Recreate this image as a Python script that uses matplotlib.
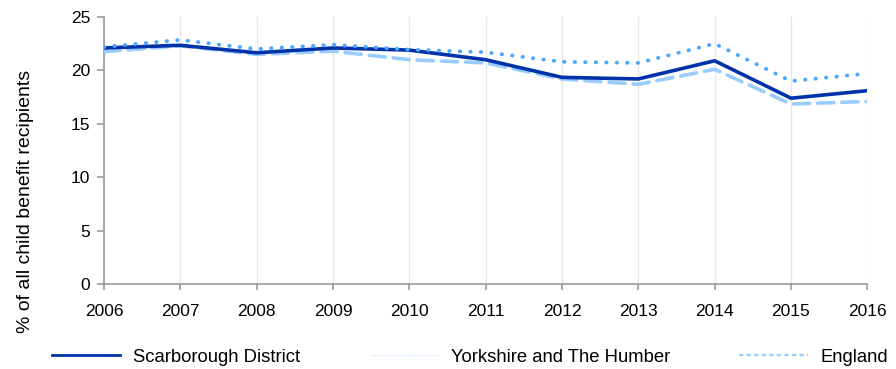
import matplotlib
matplotlib.use('Agg')
import matplotlib.pyplot as plt
from matplotlib.lines import Line2D

plt.rcParams['font.family'] = ['Liberation Sans', 'DejaVu Sans']

years = [2006, 2007, 2008, 2009, 2010, 2011, 2012, 2013, 2014, 2015, 2016]
scarborough = [22.1, 22.35, 21.65, 22.1, 21.9, 21.0, 19.35, 19.2, 20.9, 17.4, 18.1]
yorkshire = [22.2, 22.85, 22.0, 22.4, 21.95, 21.7, 20.8, 20.7, 22.5, 19.0, 19.7]
england = [21.75, 22.3, 21.5, 21.8, 21.0, 20.7, 19.2, 18.7, 20.1, 16.85, 17.1]

dark = '#0033aa'
mid = '#4da6ff'
light = '#99ccff'

fig = plt.figure(figsize=(8.96, 3.69), dpi=100)
ax = fig.add_axes([0.116, 0.230, 0.852, 0.724])

ax.plot(years, england, color=light, lw=2.6, dashes=(4.5, 2.2), solid_capstyle='round',
        dash_capstyle='round', zorder=3)
ax.plot(years, scarborough, color=dark, lw=2.6, zorder=4)
ax.plot(years, yorkshire, color=mid, lw=2.8, dashes=(0.1, 2.6), dash_capstyle='round', zorder=5)

ax.set_xlim(2006, 2016)
ax.set_ylim(0, 25)
ax.set_xticks(years)
ax.set_yticks([0, 5, 10, 15, 20, 25])
ax.xaxis.grid(True, color='#e8e8e8', lw=1)
ax.set_axisbelow(True)

for side in ['top', 'right']:
    ax.spines[side].set_visible(False)
for side in ['left', 'bottom']:
    ax.spines[side].set_color('#999999')
    ax.spines[side].set_linewidth(1.2)

ax.tick_params(axis='y', length=5, width=1.2, color='#999999', labelsize=12.5, pad=5)
ax.tick_params(axis='x', length=4, width=1.2, color='#999999', labelsize=12.5, pad=10)

ax.set_ylabel('% of all child benefit recipients', fontsize=14)
ax.yaxis.set_label_coords(-0.092, 0.31)

handles = [
    Line2D([], [], color=dark, lw=2),
    Line2D([], [], color='#c8e2ff', lw=1, dashes=(0.6, 1.0)),
    Line2D([], [], color=light, lw=1.6, dashes=(2.0, 1.4)),
]
labels = ['Scarborough District', 'Yorkshire and The Humber', 'England']
fig.legend(handles, labels, loc='center left', bbox_to_anchor=(0.058, 0.032), ncol=3,
           frameon=False, fontsize=13.35, handlelength=3.67, handletextpad=0.7,
           columnspacing=3.75, borderaxespad=0, borderpad=0)

fig.savefig('out.png', dpi=100)
